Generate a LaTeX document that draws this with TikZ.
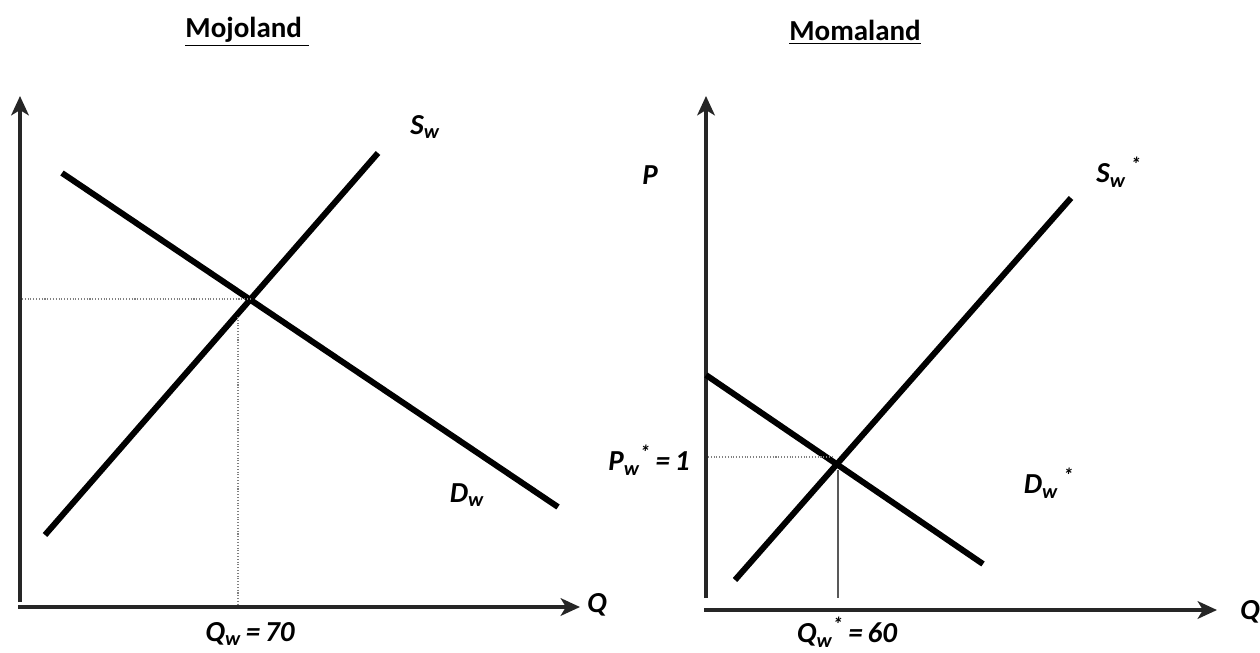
\documentclass[tikz,border=0pt]{standalone}
\usepackage{fontspec}
\setmainfont{Carlito}
\usetikzlibrary{arrows.meta}

\begin{document}
\begin{tikzpicture}[x=0.02cm, y=-0.02cm, >={Stealth[length=11pt, width=10pt, inset=3pt]},
  axis/.style={->, line width=2.3pt, black!85},
  curve/.style={line width=3.4pt},
  guide/.style={densely dotted, gray, line width=0.6pt},
  lbl/.style={font=\fontsize{16.5}{19}\selectfont\bfseries\itshape, inner sep=0pt},
  ttl/.style={font=\fontsize{16.5}{19}\selectfont\bfseries, inner sep=0pt}]

  \useasboundingbox (0,0) rectangle (1260,652);

  % --- 1. titles ---
  \node[ttl] (mojoTitle) at (247,32) {\underline{Mojoland\ }};
  \node[ttl] (momaTitle) at (855,32) {\underline{Momaland}};

  % --- 2. Mojoland ---
  \coordinate (mojoYbot) at (20,602);
  \coordinate (mojoYtop) at (20,96);
  \coordinate (mojoXl)   at (18,607);
  \coordinate (mojoXr)   at (580,607);
  \draw[axis] (mojoYbot) -- (mojoYtop);
  \draw[axis] (mojoXl) -- (mojoXr);
  \node[lbl] (mojoQ) at (597,605) {Q};

  % supply and demand
  \coordinate (swLo) at (45,535);
  \coordinate (swHi) at (378,153);
  \coordinate (dwHi) at (62,173);
  \coordinate (dwLo) at (558,507);
  \draw[curve] (swLo) -- (swHi);
  \draw[curve] (dwHi) -- (dwLo);
  \node[lbl] (swLbl) at (425,127) {S\textsubscript{w}};
  \node[lbl] (dwLbl) at (467,495) {D\textsubscript{w}};

  % equilibrium guides
  \coordinate (mojoEq)  at (250,299);
  \coordinate (mojoPy)  at (22,299);
  \coordinate (mojoQt)  at (238,317);
  \coordinate (mojoQb)  at (238,605);
  \draw[guide] (mojoPy) -- (mojoEq);
  \draw[guide] (mojoQt) -- (mojoQb);
  \node[lbl] (mojoQw) at (250,634) {Q\textsubscript{w}\,=\,70};

  % --- 3. Momaland ---
  \coordinate (momaYbot) at (706,598);
  \coordinate (momaYtop) at (706,96);
  \coordinate (momaXl)   at (704,610);
  \coordinate (momaXr)   at (1217,610);
  \draw[axis] (momaYbot) -- (momaYtop);
  \draw[axis] (momaXl) -- (momaXr);
  \node[lbl] (momaQ) at (1250,612) {Q};
  \node[lbl] (momaP) at (650,175) {P};

  % supply and demand
  \coordinate (swsLo) at (735,580);
  \coordinate (swsHi) at (1071,198);
  \coordinate (dwsHi) at (706,375);
  \coordinate (dwsLo) at (983,564);
  \draw[curve] (swsLo) -- (swsHi);
  \draw[curve] (dwsHi) -- (dwsLo);
  \node[lbl] (swsLbl) at (1119,172) {S\textsubscript{w}\,\textsuperscript{*}};
  \node[lbl] (dwsLbl) at (1049,483) {D\textsubscript{w}\,\textsuperscript{*}};

  % equilibrium guides
  \coordinate (momaEq) at (837,464);
  \coordinate (momaPy) at (708,457);
  \coordinate (momaPe) at (832,457);
  \coordinate (momaQt) at (838,470);
  \coordinate (momaQb) at (838,598);
  \draw[guide] (momaPy) -- (momaPe);
  \draw[gray!70!black, line width=0.6pt] (momaQt) -- (momaQb);
  \node[lbl] (momaPw) at (649,460) {P\textsubscript{w}\textsuperscript{*}\,=\,1};
  \node[lbl] (momaQw) at (847,632) {Q\textsubscript{w}\textsuperscript{*}\,=\,60};

\end{tikzpicture}
\end{document}
